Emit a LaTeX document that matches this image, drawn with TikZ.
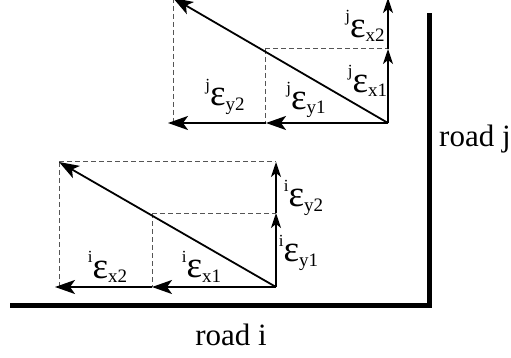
\documentclass[tikz,border=0pt]{standalone}
\usepackage{fontspec}
\setmainfont{Liberation Serif}
\usetikzlibrary{arrows.meta}
\definecolor{guideGrey}{HTML}{555555}

\newcommand{\epslbl}[2]{\raisebox{0.5em}{\fontsize{17}{17}\selectfont #1}{\fontsize{37}{37}\selectfont ε}\raisebox{-0.15em}{\fontsize{19}{19}\selectfont #2}}

\begin{document}
\begin{tikzpicture}[x=1pt, y=-1pt, font=\fontsize{31}{36}\selectfont,
    guide/.style={draw=guideGrey, line width=1pt, dash pattern=on 5pt off 3pt},
    bigvec/.style={draw, line width=2pt, -{Stealth[length=20pt, width=14pt, inset=5pt]}},
    smallvec/.style={draw, line width=1.5pt, -{Stealth[length=15pt, width=10pt, inset=4pt]}},
    lbl/.style={inner sep=0pt},
    road/.style={draw, line width=5.7pt, line join=miter}]
    \useasboundingbox (0,0) rectangle (511,358);

    % road i and road j
    \coordinate (roadEnd) at (10,305.5);
    \coordinate (corner) at (429.5,305.5);
    \coordinate (roadTop) at (429.5,13);
    \draw[road] (roadEnd) -- (corner) -- (roadTop);
    \node[anchor=base] (roadI) at (231,345) {road i};
    \node[anchor=base west, inner sep=0pt] (roadJ) at (439,147) {road j};

    % vectors on road i
    \coordinate (Oi) at (276,287);
    \coordinate (Ai) at (152,287);
    \coordinate (Bi) at (55,287);
    \coordinate (Pi) at (276,213);
    \coordinate (Qi) at (276,162);
    \coordinate (Ki) at (152,213);
    \coordinate (Ci) at (59,162);
    \draw[guide] (Ki) -- (Pi);
    \draw[guide] (Ki) -- (Ai);
    \draw[guide] (Ci) -- (Qi);
    \draw[guide] (Ci) -- (Ci |- Oi);
    \draw[bigvec] (Oi) -- (Ai);
    \draw[bigvec] (Ai) -- (Bi);
    \draw[bigvec, line width=1.8pt] (Oi) -- (Ci);
    \draw[smallvec] (Oi) -- (Pi);
    \draw[smallvec] (Pi) -- (Qi);
    \node[lbl] (ix2) at (107.5,267) {\epslbl{i}{x2}};
    \node[lbl] (ix1) at (201.5,266.5) {\epslbl{i}{x1}};
    \node[lbl] (iy1) at (298.5,252.5) {\epslbl{i}{y1}};
    \node[lbl] (iy2) at (303.5,197.5) {\epslbl{i}{y2}};

    % vectors on road j
    \coordinate (Oj) at (388,123);
    \coordinate (Aj) at (266,123);
    \coordinate (Bj) at (168,123);
    \coordinate (Pj) at (388,49);
    \coordinate (Qj) at (388,-2);
    \coordinate (Kj) at (265,49);
    \coordinate (Cj) at (173,-2);
    \draw[guide] (Kj) -- (Pj);
    \draw[guide] (Kj) -- (Kj |- Oj);
    \draw[guide] (Cj) -- (Qj);
    \draw[guide] (Cj) -- (Cj |- Oj);
    \draw[bigvec] (Oj) -- (Aj);
    \draw[bigvec] (Aj) -- (Bj);
    \draw[bigvec, line width=1.8pt] (Oj) -- (Cj);
    \draw[smallvec] (Oj) -- (Pj);
    \draw[smallvec] (Pj) -- (Qj);
    \node[lbl] (jy2) at (225,96.5) {\epslbl{j}{y2}};
    \node[lbl] (jy1) at (306,100) {\epslbl{j}{y1}};
    \node[lbl] (jx1) at (367.5,81) {\epslbl{j}{x1}};
    \node[lbl] (jx2) at (365,26) {\epslbl{j}{x2}};
\end{tikzpicture}
\end{document}
